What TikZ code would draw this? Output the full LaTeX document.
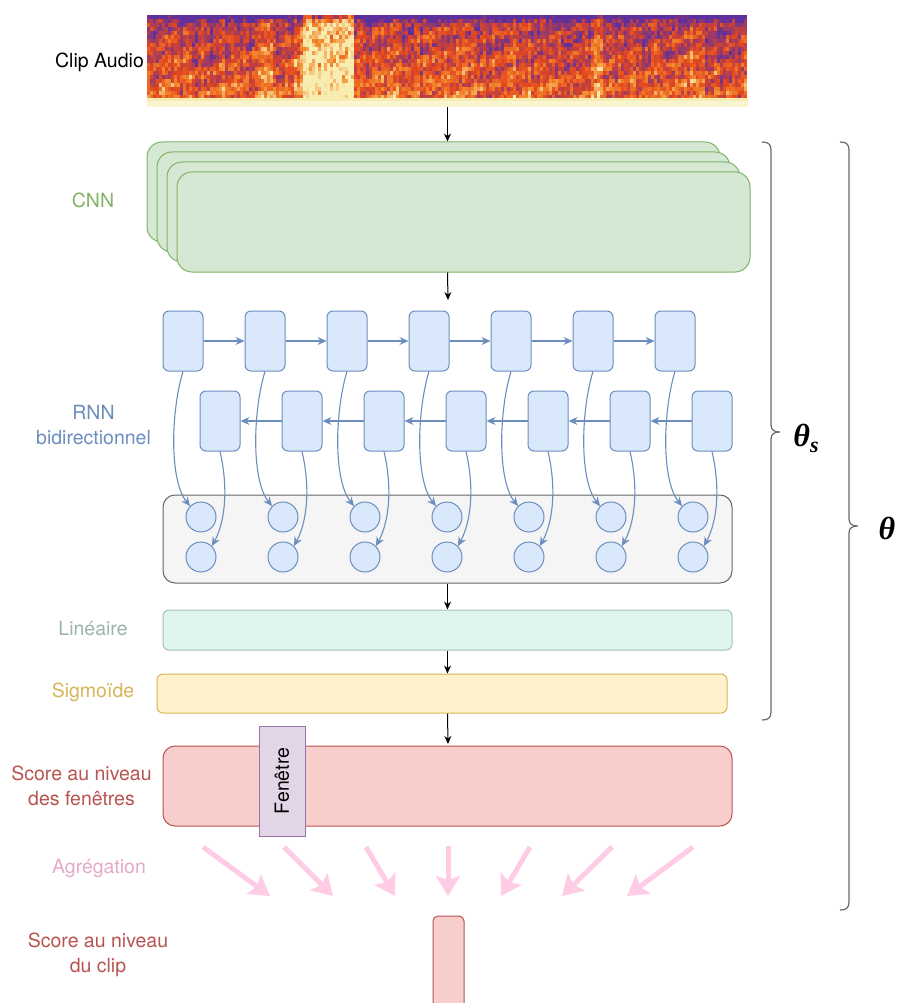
\documentclass[tikz,border=0pt]{standalone}
\usepackage{fontspec}
\setmainfont{TeX Gyre Heros}
\newfontfamily\thfont{Liberation Serif}
\usetikzlibrary{arrows.meta}
\definecolor{spurple}{HTML}{5E2F9E}
\definecolor{sred}{HTML}{E4461F}
\definecolor{sorange}{HTML}{F3862A}
\definecolor{syellow}{HTML}{F8EDB0}
\definecolor{cnnfill}{HTML}{D5E8D4}
\definecolor{cnncol}{HTML}{82B366}
\definecolor{rnnfill}{HTML}{DAE8FC}
\definecolor{rnncol}{HTML}{6C8EBF}
\definecolor{grayfill}{HTML}{F5F5F5}
\definecolor{graydraw}{HTML}{666666}
\definecolor{linfill}{HTML}{DFF5F0}
\definecolor{lindraw}{HTML}{A9BFBC}
\definecolor{lincol}{HTML}{9DB3B0}
\definecolor{sigfill}{HTML}{FFF2CC}
\definecolor{sigcol}{HTML}{D6B656}
\definecolor{scfill}{HTML}{F8CECC}
\definecolor{sccol}{HTML}{B85450}
\definecolor{fenfill}{HTML}{E1D5E7}
\definecolor{fendraw}{HTML}{9673A6}
\definecolor{aggcol}{HTML}{E5A9CA}
\definecolor{pinkarrow}{HTML}{FFCCE6}
\definecolor{bracecol}{HTML}{6A6A6A}
\newcommand\mkspeccol[1]{%
  \ifnum#1<45 \pgfmathtruncatemacro\spu{#1*100/45}\colorlet{speccol}{sred!\spu!spurple}%
  \else\ifnum#1<72 \pgfmathtruncatemacro\spu{(#1-45)*100/27}\colorlet{speccol}{sorange!\spu!sred}%
  \else\pgfmathtruncatemacro\spu{(#1-72)*100/28}\colorlet{speccol}{syellow!\spu!sorange}\fi\fi}
\begin{document}
\begin{tikzpicture}[x=1pt,y=-1pt,
  lbl/.style={font=\fontsize{19.5}{25}\selectfont, align=center, inner sep=0},
  cnnbox/.style={rectangle, rounded corners=15pt, fill=cnnfill, draw=cnncol, line width=1pt, minimum width=573pt, minimum height=100pt, inner sep=0},
  rnnbox/.style={rectangle, rounded corners=6pt, fill=rnnfill, draw=rnncol, line width=1pt, minimum width=40pt, minimum height=60pt, inner sep=0},
  circ/.style={circle, fill=rnnfill, draw=rnncol, line width=1pt, minimum size=30pt, inner sep=0},
  layer/.style={rectangle, inner sep=0, line width=1pt},
  karrow/.style={draw=black, line width=1pt, -{Stealth[length=8pt,width=7pt]}},
  barrow/.style={draw=rnncol, line width=1.1pt, -{Stealth[length=9pt,width=8pt]}},
  parrow/.style={draw=pinkarrow, line width=5pt, -{Stealth[length=20pt,width=24pt,inset=4pt]}},
  bracestyle/.style={draw=bracecol, line width=1.2pt}
]
\useasboundingbox (0,0) rectangle (898,1003);
\clip (0,0) rectangle (898,1003);
\fill[white] (0,0) rectangle (898,1003);

% spectrogram
\node[rectangle, inner sep=0, minimum width=601pt, minimum height=92pt] (spec) at (447.5,61) {};
\pgfmathsetseed{11}
\foreach \i in {0,...,199}{
  \pgfmathsetmacro\cb{rnd*22-11}
  \pgfmathsetmacro\bd{(\i>=52 && \i<=68)*55 + (\i>=37 && \i<=41)*28 + (\i>=49 && \i<=51)*18 + (\i>=148 && \i<=151)*20 + (\i>=181 && \i<=184)*14 + (\i>=80 && \i<=83)*12 + (\i>=122 && \i<=123)*10}
  \foreach \j in {0,...,20}{
    \pgfmathtruncatemacro\tt{max(0,min(100, 4+46*rnd+30*\j/20+\cb+\bd+12*sin(\i*17+\j*61)-(\j==0)*45-(\j==1)*15))}
    \mkspeccol{\tt}
    \fill[speccol] ({147+3*\i},{15+4*\j}) rectangle +(3.3,4.3);
  }
}
\fill[syellow!60!white] (147,100) rectangle (748,107);
\fill[syellow] (147,98) rectangle (748,101);

% CNN stack
\foreach \k in {0,...,3}{
  \node[cnnbox] (cnn\k) at ({433.5+10*\k},{192+10*\k}) {};
}
\draw[karrow] (spec.south) -- (spec.south |- cnn0.north);
\coordinate (rnnin) at (448,300);
\draw[karrow] (spec.south |- cnn3.south) -- (rnnin);

% RNN
\node[layer, rounded corners=12pt, fill=grayfill, draw=graydraw, minimum width=569pt, minimum height=88pt] (gray) at (447.5,539) {};
\foreach \i in {1,...,7}{
  \node[rnnbox] (f\i) at ({183+82*(\i-1)},341) {};
  \node[rnnbox] (b\i) at ({220+82*(\i-1)},421) {};
  \node[circ] (c\i) at ({201+82*(\i-1)},517) {};
  \node[circ] (d\i) at ({201+82*(\i-1)},557) {};
}
\foreach \i [evaluate=\i as \n using int(\i+1)] in {1,...,6}{
  \draw[barrow] (f\i) -- (f\n);
  \draw[barrow] (b\n) -- (b\i);
}
\foreach \i in {1,...,7}{
  \draw[barrow] (f\i.south) .. controls +(-12,39) and +(-21,-26) .. (c\i.135);
  \draw[barrow] (b\i.south) .. controls +(8,34) and +(14,-26) .. (d\i.45);
}

% dense layers
\node[layer, rounded corners=6pt, fill=linfill, draw=lindraw, minimum width=569pt, minimum height=40pt] (lin) at (447.5,630) {};
\node[layer, rounded corners=6pt, fill=sigfill, draw=sigcol, minimum width=570pt, minimum height=39pt] (sig) at (442,693.5) {};
\node[layer, rounded corners=12pt, fill=scfill, draw=sccol, minimum width=569pt, minimum height=80pt] (score) at (447.5,786) {};
\node[layer, fill=fenfill, draw=fendraw, minimum width=46pt, minimum height=110pt] (fen) at (282,781) {};
\node[lbl, rotate=90] (fentxt) at (fen.center) {Fenêtre};
\draw[karrow] (gray.south) -- (lin.north);
\draw[karrow] (lin.south) -- (lin.south |- sig.north);
\coordinate (scin) at (448,744);
\draw[karrow] (lin.south |- sig.south) -- (scin);

% aggregation arrows
\coordinate (a1s) at (203,847); \coordinate (a1e) at (270,896);
\coordinate (a2s) at (284,847); \coordinate (a2e) at (333,896);
\coordinate (a3s) at (366,847); \coordinate (a3e) at (395,896);
\coordinate (a4s) at (448,846); \coordinate (a4e) at (448,896);
\coordinate (a5s) at (530,847); \coordinate (a5e) at (501,896);
\coordinate (a6s) at (612,847); \coordinate (a6e) at (562,896);
\coordinate (a7s) at (693,847); \coordinate (a7e) at (627,896);
\foreach \i in {1,...,7}{ \draw[parrow] (a\i s) -- (a\i e); }

\node[layer, rounded corners=5pt, fill=scfill, draw=sccol, minimum width=31pt, minimum height=94pt] (clip) at (448.5,963) {};

% labels
\node[lbl] (lclip) at (99.5,62) {Clip Audio};
\node[lbl, text=cnncol] (lcnn) at (93,200) {CNN};
\node[lbl, text=rnncol] (lrnn) at (93.5,425) {RNN\\bidirectionnel};
\node[lbl, text=lincol] (llin) at (93,629) {Linéaire};
\node[lbl, text=sigcol] (lsig) at (93,692) {Sigmoïde};
\node[lbl, text=sccol] (lsc) at (81.5,786) {Score au niveau\\des fenêtres};
\node[lbl, text=aggcol] (lagg) at (99,869) {Agrégation};
\node[lbl, text=sccol] (lclipsc) at (98,955) {Score au niveau\\du clip};

% braces
\draw[bracestyle] (762,142) .. controls (768,142) and (771,144) .. (771,150) -- (771,425)
  .. controls (771,430) and (774,432) .. (780,432)
  .. controls (774,432) and (771,434) .. (771,439) -- (771,712)
  .. controls (771,718) and (768,720) .. (762,720);
\draw[bracestyle] (840,142) .. controls (846,142) and (849,144) .. (849,150) -- (849,519)
  .. controls (849,524) and (852,526) .. (858,526)
  .. controls (852,526) and (849,528) .. (849,533) -- (849,902)
  .. controls (849,908) and (846,910) .. (840,910);
\node[inner sep=0] (ths) at (806,438) {\thfont\bfseries\itshape\fontsize{32}{32}\selectfont θ\raisebox{-6pt}{\fontsize{22}{22}\selectfont s}};
\node[inner sep=0] (th) at (887,528) {\thfont\bfseries\itshape\fontsize{32}{32}\selectfont θ};
\end{tikzpicture}
\end{document}
